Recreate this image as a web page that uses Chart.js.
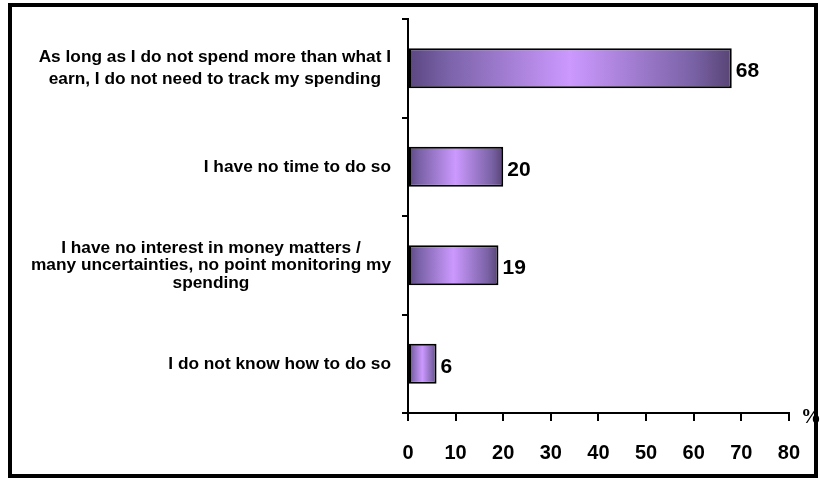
<!DOCTYPE html>
<html>
<head>
<meta charset="utf-8">
<script src="https://cdn.jsdelivr.net/npm/chart.js@4.4.0/dist/chart.umd.min.js"></script>
<style>
html,body{margin:0;padding:0;background:#fff;}
#wrap{width:820px;height:482px;}
</style>
</head>
<body>
<div id="wrap"><canvas id="my_canvas" width="820" height="482"></canvas></div>
<script>
// reasons for not tracking spending (each entry = lines of the label)
const reasons = [
    ['As long as I do not spend more than what I', 'earn, I do not need to track my spending'],
    ['I have no time to do so'],
    ['I have no interest in money matters /', 'many uncertainties, no point monitoring my', 'spending'],
    ['I do not know how to do so']
];
const percents = [68, 20, 19, 6];
const xTicks = [0, 10, 20, 30, 40, 50, 60, 70, 80];
const unitLabel = '%';

const FONT = '"Liberation Sans", Arial, sans-serif';

function barFill(ctx){
    const chart = ctx.chart;
    const xs = chart.scales.x;
    if(!xs || !chart.chartArea || ctx.type !== 'data') return '#a57fd6';
    const x0 = xs.getPixelForValue(0);
    const x1 = xs.getPixelForValue(ctx.raw);
    if(!isFinite(x0) || !isFinite(x1) || x1 === x0) return '#a57fd6';
    const g = chart.ctx.createLinearGradient(x0, 0, x1, 0);
    g.addColorStop(0, '#5a4680');
    g.addColorStop(0.12, '#7a62a8');
    g.addColorStop(0.5, '#cc99ff');
    g.addColorStop(0.88, '#7a62a6');
    g.addColorStop(1, '#584474');
    return g;
}

// category labels: lines centred against each other, block right aligned
const yLabels = {
    id:'yLabels',
    afterDraw(chart){
        const c = chart.ctx;
        const ys = chart.scales.y;
        c.save();
        c.font = 'bold 17.3px ' + FONT;
        c.fillStyle = '#000';
        c.textAlign = 'center';
        c.textBaseline = 'middle';
        reasons.forEach((lines, i) => {
            const lineH = lines.length > 2 ? 17.5 : 21.5;
            const cy = ys.getPixelForTick(i);
            const widest = Math.max(...lines.map(l => c.measureText(l).width));
            const cx = ys.right - 17 - widest / 2;
            lines.forEach((l, j) => {
                c.fillText(l, cx, cy + (j - (lines.length - 1) / 2) * lineH);
            });
        });
        c.restore();
    }
};

const valueLabels = {
    id:'valueLabels',
    afterDatasetsDraw(chart){
        const c = chart.ctx;
        const meta = chart.getDatasetMeta(0);
        c.save();
        c.font = 'bold 21px ' + FONT;
        c.fillStyle = '#000';
        c.textAlign = 'left';
        c.textBaseline = 'middle';
        meta.data.forEach((bar, i) => {
            c.fillText(String(percents[i]), bar.x + 4, bar.y + 3);
        });
        c.restore();
    }
};

const frame = {
    id:'frame',
    afterDraw(chart){
        const c = chart.ctx;
        const xs = chart.scales.x;
        c.save();
        // unit label at the end of the x axis
        c.font = 'bold 20px "Liberation Serif", "Times New Roman", serif';
        c.fillStyle = '#000';
        c.textAlign = 'left';
        c.textBaseline = 'middle';
        c.fillText(unitLabel, xs.right + 12, xs.top + 5);
        // outer border
        c.strokeStyle = '#000';
        c.lineWidth = 4;
        c.strokeRect(10, 5, 806, 471);
        c.restore();
    }
};

const canvas_element = document.getElementById('my_canvas').getContext('2d');

const the_chart = new Chart(canvas_element, {
    type:'bar',
    data:{
        labels:reasons.map(r => r.join(' ')),
        datasets:[{
            data:percents,
            backgroundColor:barFill,
            borderColor:'#000',
            borderWidth:2,
            borderSkipped:false,
            barPercentage:0.405,
            categoryPercentage:1
        }]
    },
    options:{
        indexAxis:'y',
        responsive:false,
        animation:false,
        layout:{padding:{left:0, top:19, right:31, bottom:0}},
        plugins:{
            legend:{display:false},
            tooltip:{enabled:false}
        },
        scales:{
            x:{
                min:0,
                max:80,
                afterBuildTicks:s => { s.ticks = xTicks.map(v => ({value:v})); },
                afterFit:s => { s.height = 69; },
                ticks:{
                    color:'#000',
                    padding:20,
                    maxRotation:0,
                    font:{family:FONT, size:20, weight:'bold'}
                },
                grid:{
                    drawOnChartArea:false,
                    drawTicks:true,
                    tickLength:8,
                    color:'#000',
                    lineWidth:2
                },
                border:{display:true, color:'#000', width:2}
            },
            y:{
                afterFit:s => { s.width = 408; },
                ticks:{display:false},
                grid:{
                    offset:true,
                    drawOnChartArea:false,
                    drawTicks:true,
                    tickLength:6,
                    color:'#000',
                    lineWidth:2
                },
                border:{display:true, color:'#000', width:2}
            }
        }
    },
    plugins:[valueLabels, yLabels, frame]
});
</script>
</body>
</html>
